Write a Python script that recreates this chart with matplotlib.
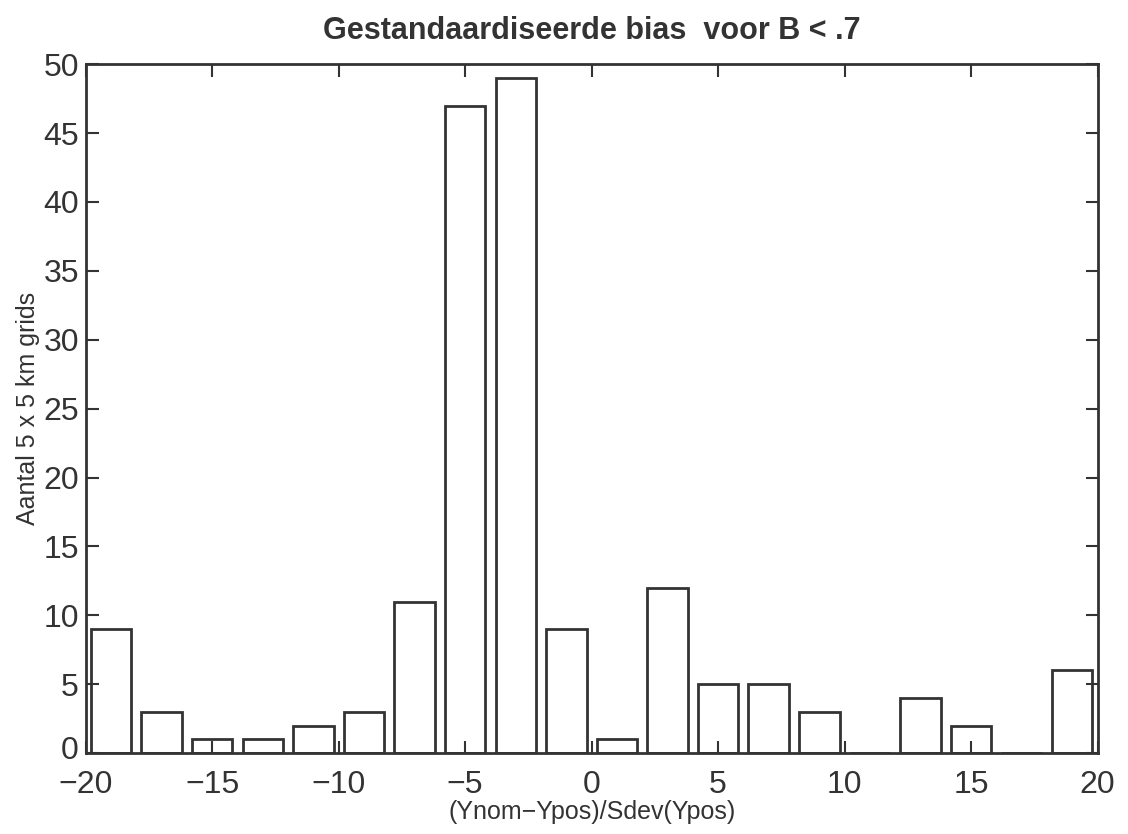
import matplotlib.pyplot as plt
import matplotlib.transforms as mtransforms

# bin centres and counts
centers = [-19, -17, -15, -13, -11, -9, -7, -5, -3, -1, 1, 3, 5, 7, 9, 11, 13, 15, 17, 19]
counts = [9, 3, 1, 1, 2, 3, 11, 47, 49, 9, 1, 12, 5, 5, 3, 0, 4, 2, 0, 6]

x_ticks = [-20, -15, -10, -5, 0, 5, 10, 15, 20]
x_tick_labels = ['\u221220', '\u221215', '\u221210', '\u22125', '0', '5', '10', '15', '20']
y_ticks = [0, 5, 10, 15, 20, 25, 30, 35, 40, 45, 50]

plt.rcParams['font.family'] = ['Liberation Sans', 'DejaVu Sans']
ink = '#333333'

fig = plt.figure(figsize=(11.28, 8.34), dpi=100)
ax = fig.add_axes([0.076, 0.097, 0.897, 0.826])

ax.bar(centers, counts, width=1.6, facecolor='white', edgecolor=ink, linewidth=2)

ax.set_xlim(-20, 20)
ax.set_ylim(0, 50)
ax.set_xticks(x_ticks)
ax.set_xticklabels(x_tick_labels)
ax.set_yticks(y_ticks)
ax.tick_params(direction='in', length=9, width=1.5, color=ink, labelcolor=ink,
               labelsize=23, top=True, right=True)
ax.tick_params(axis='x', pad=12)
ax.tick_params(axis='y', pad=5)
for s in ax.spines.values():
    s.set_linewidth(2)
    s.set_color(ink)

# lift the "0" on the y axis a little so it clears the "-20" below it
zero_lbl = ax.get_yticklabels()[0]
zero_lbl.set_transform(zero_lbl.get_transform() +
                       mtransforms.ScaledTranslation(0, 4 / 72, fig.dpi_scale_trans))

ax.set_title('Gestandaardiseerde bias  voor B < .7', fontsize=22, fontweight='bold',
             color=ink, pad=18)
ax.set_xlabel('(Ynom\u2212Ypos)/Sdev(Ypos)', fontsize=18, color=ink, labelpad=0)
ax.set_ylabel('Aantal 5 x 5 km grids', fontsize=18, color=ink, labelpad=2)

fig.savefig('out.png', dpi=100)
